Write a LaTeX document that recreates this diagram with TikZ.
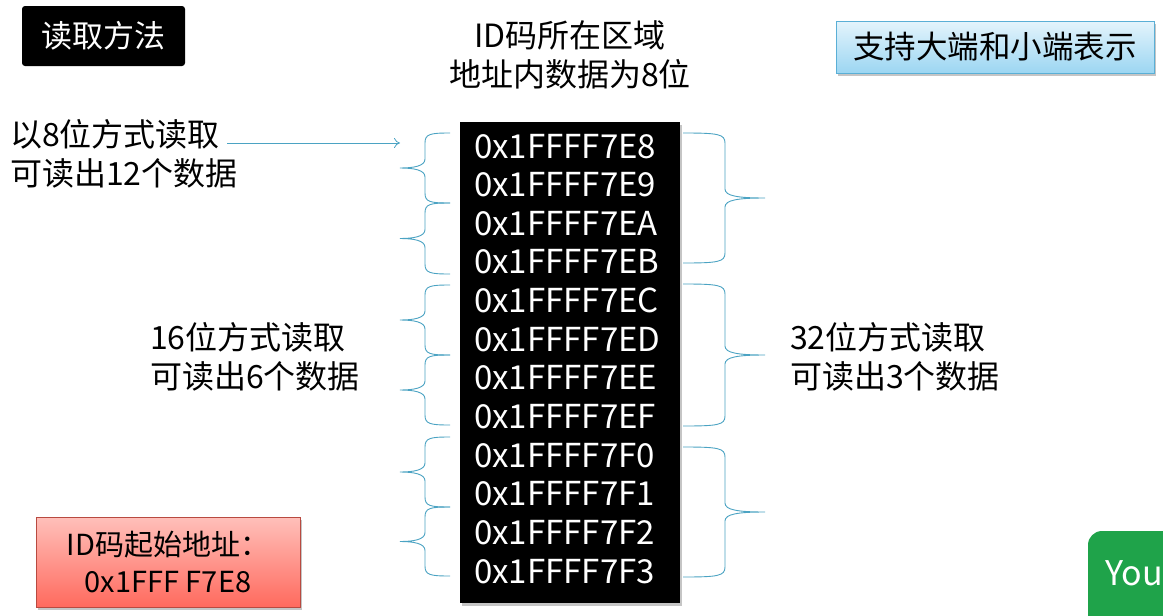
\documentclass[tikz,border=0pt]{standalone}
\usepackage{fontspec}
\setmainfont{Noto Sans CJK SC}
\usetikzlibrary{shadows,arrows.meta}
\definecolor{brc}{HTML}{4BA3C3}
\definecolor{hdrblue}{HTML}{5AAFD6}
\definecolor{bluetop}{HTML}{E4F4FC}
\definecolor{bluebot}{HTML}{9CD6F2}
\definecolor{redtop}{HTML}{FFC0BA}
\definecolor{redbot}{HTML}{FF6A5E}
\definecolor{redline}{HTML}{B84A40}
\definecolor{ytgreen}{HTML}{1FA34A}
\tikzset{
  bracestyle/.style={draw=brc, line width=0.9pt},
  hexlabel/.style={anchor=base west, text=white, inner sep=0pt, font=\fontsize{33}{33}\selectfont},
  cjktext/.style={align=left, anchor=north west, inner sep=0pt, font=\fontsize{32}{39}\selectfont},
  boxshadow/.style={drop shadow={opacity=0.45, shadow xshift=2pt, shadow yshift=-3pt}}
}
\newcommand\lbr[2]{%
  \pgfmathsetmacro\ym{(#1+#2)/2}%
  \draw[bracestyle] (450,#1) .. controls (430,#1) and (425,#1+1) .. (425,#1+10) -- (425,\ym-9)
     .. controls (425,\ym-2) and (414,\ym) .. (400,\ym)
     .. controls (414,\ym) and (425,\ym+2) .. (425,\ym+9) -- (425,#2-10)
     .. controls (425,#2-1) and (430,#2) .. (450,#2);}
\newcommand\rbr[2]{%
  \pgfmathsetmacro\ym{(#1+#2)/2}%
  \draw[bracestyle] (683,#1) .. controls (718,#1) and (725,#1+1) .. (725,#1+10) -- (725,\ym-9)
     .. controls (725,\ym-2) and (738,\ym) .. (765,\ym)
     .. controls (738,\ym) and (725,\ym+2) .. (725,\ym+9) -- (725,#2-10)
     .. controls (725,#2-1) and (718,#2) .. (683,#2);}
\begin{document}
\begin{tikzpicture}[x=1pt,y=-1pt]
\useasboundingbox (0,0) rectangle (1163,616);
\fill[white] (0,0) rectangle (1163,616);

% title box
\node[fill=black, rounded corners=3pt, minimum width=163pt, minimum height=60pt, inner sep=0pt,
      text=white, font=\fontsize{31}{31}\selectfont] (title) at (103.5,36) {读取方法};

% header text
\node[align=center, inner sep=0pt, font=\fontsize{32}{39}\selectfont] (hdr) at (570,55) {ID码所在区域\\地址内数据为8位};

% endian box
\node[draw=hdrblue, line width=0.8pt, top color=bluetop, bottom color=bluebot,
      minimum width=318pt, minimum height=52pt, inner sep=0pt, boxshadow,
      font=\fontsize{31.5}{31.5}\selectfont] (endian) at (995,47) {支持大端和小端表示};

% memory column
\node[fill=black, minimum width=220pt, minimum height=481pt, inner sep=0pt, boxshadow] (mem) at (570,362.5) {};
\foreach \t [count=\i from 0] in {0x1FFFF7E8,0x1FFFF7E9,0x1FFFF7EA,0x1FFFF7EB,0x1FFFF7EC,0x1FFFF7ED,0x1FFFF7EE,0x1FFFF7EF,0x1FFFF7F0,0x1FFFF7F1,0x1FFFF7F2,0x1FFFF7F3}
  \node[hexlabel] (h\i) at (474,{158+38.65*\i}) {\t};

% braces
\lbr{133}{203}
\lbr{203}{274}
\lbr{285}{355}
\lbr{355}{425}
\lbr{437}{507}
\lbr{507}{576}
\rbr{133}{263}
\rbr{284}{426}
\rbr{447}{577}

% labels
\node[cjktext] (l8) at (10,119) {以8位方式读取\\可读出12个数据};
\coordinate (arrstart) at (227,143);
\coordinate (arrend) at (400,143);
\draw[draw=brc, line width=0.8pt, -{To[length=6pt,width=10pt]}] (arrstart) -- (arrend);
\node[cjktext] (l16) at (150,322) {16位方式读取\\可读出6个数据};
\node[cjktext] (l32) at (790,322) {32位方式读取\\可读出3个数据};

% start address box
\node[draw=redline, line width=0.8pt, top color=redtop, bottom color=redbot, boxshadow,
      minimum width=264pt, minimum height=90pt, inner sep=0pt, align=center,
      font=\fontsize{29}{37}\selectfont] (start) at (168,562) {ID码起始地址：\\0x1FFF F7E8};

% partial green popup
\begin{scope}
\clip (0,0) rectangle (1163,616);
\fill[ytgreen, rounded corners=14pt] (1088,531) rectangle (1200,680);
\node[anchor=base west, inner sep=0pt, text=white, font=\fontsize{34}{34}\selectfont] (yt) at (1105,585) {You};
\end{scope}
\end{tikzpicture}
\end{document}
